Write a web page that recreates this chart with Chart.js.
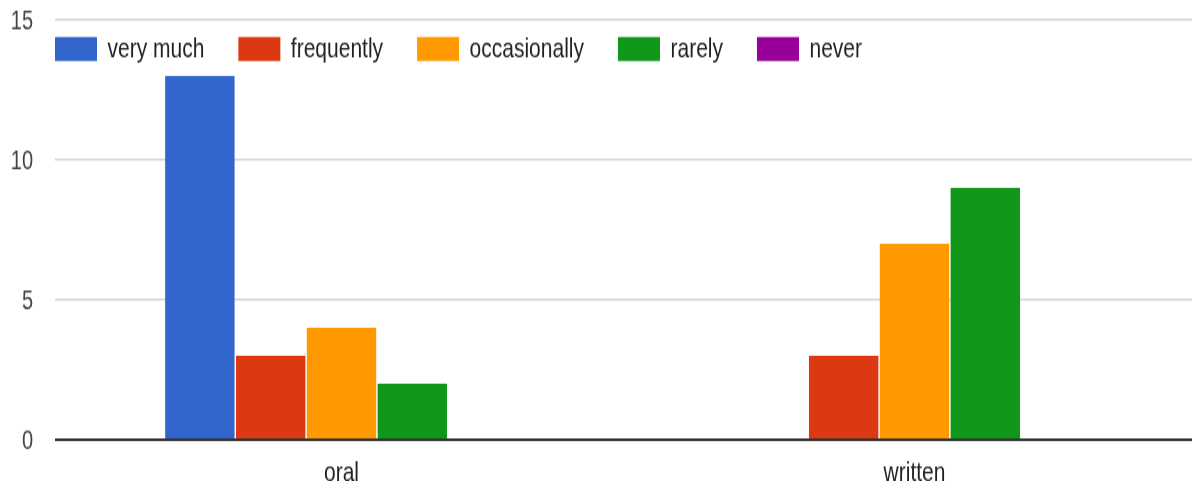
<!DOCTYPE html>
<html><head><meta charset="utf-8">
<script src="https://cdn.jsdelivr.net/npm/chart.js@4"></script>
<style>
html,body{margin:0;padding:0;overflow:hidden;background:#fff;width:1192px;height:481px}
#wrap{position:absolute;left:0;top:0;width:1201px;height:361px;transform-origin:0 0;transform:scaleY(1.33241)}
</style>
</head><body><div id="wrap"><canvas id="c" width="1201" height="361"></canvas></div>
<script>
const categories = ['oral', 'written'];
const seriesNames = ['very much', 'frequently', 'occasionally', 'rarely', 'never'];
const veryMuch = [13, 0];
const frequently = [3, 3];
const occasionally = [4, 7];
const rarely = [2, 9];
const never = [0, 0];
const yTicks = [0, 5, 10, 15];
const colors = ['#3366cc', '#dc3912', '#ff9900', '#109618', '#990099'];
const seriesValues = [veryMuch, frequently, occasionally, rarely, never];

const fam = '"Liberation Sans", Arial, sans-serif';

// Legend drawn inside the plot area (Google-chart style): it takes no layout
// space and is then placed over the top of the chart area.
const legendInside = {
  id: 'legendInside',
  beforeLayout(chart) {
    const lg = chart.legend;
    if (lg && !lg._patched) {
      const origFit = lg.fit.bind(lg);
      lg.fit = function () { origFit(); this._realH = this.height; this.height = 0; };
      lg._patched = true;
    }
  },
  afterLayout(chart) {
    const lg = chart.legend;
    if (!lg) return;
    const pad = lg.options.labels.padding;
    lg.left = chart.chartArea.left - pad;
    lg.right = chart.width;
    lg.width = lg.right - lg.left;
    lg.top = 26.3 - pad;
    lg.bottom = lg.top + (lg._realH || 80) + 10;
    lg.height = lg.bottom - lg.top;
  }
};

new Chart(document.getElementById('c'), {
  type: 'bar',
  data: {
    labels: categories,
    datasets: seriesNames.map((n, i) => ({
      label: n,
      data: seriesValues[i],
      backgroundColor: colors[i],
      borderWidth: 0,
      categoryPercentage: 0.618,
      barPercentage: 0.98
    }))
  },
  options: {
    responsive: false,
    animation: false,
    layout: { padding: { top: 15, right: 0, left: 0, bottom: 0 } },
    plugins: {
      tooltip: { enabled: false },
      legend: {
        position: 'top',
        align: 'start',
        labels: {
          boxWidth: 42,
          boxHeight: 18,
          padding: 34,
          color: '#222',
          font: { family: fam, size: 21 }
        }
      }
    },
    scales: {
      x: {
        grid: { display: false, drawTicks: false },
        border: { display: false },
        ticks: { color: '#222', padding: 13, font: { family: fam, size: 21 } },
        afterFit(s) { s.height = 31; }
      },
      y: {
        min: 0, max: 15,
        afterBuildTicks(s) { s.ticks = yTicks.map(v => ({ value: v })); },
        grid: {
          drawTicks: false,
          color: c => (c.tick && c.tick.value === 0) ? '#333' : '#d4d4d4',
          lineWidth: c => (c.tick && c.tick.value === 0) ? 2 : 1.5
        },
        border: { display: false },
        ticks: { color: '#444', padding: 22, labelOffset: 1.3, font: { family: fam, size: 20 } },
        afterFit(s) { s.width = 55; s.paddingTop = 0; s.paddingBottom = 0; }
      }
    }
  },
  plugins: [legendInside]
});
</script>
</body></html>
